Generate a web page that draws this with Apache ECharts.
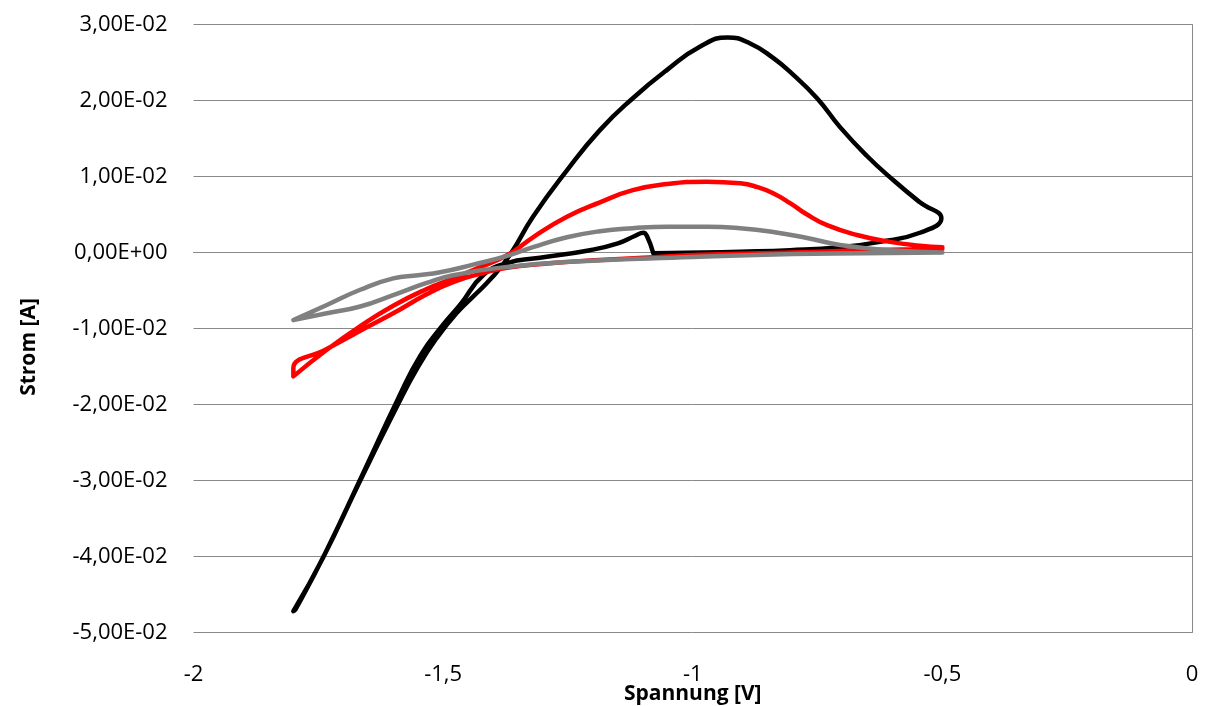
<!DOCTYPE html>
<html>
<head>
<meta charset="utf-8">
<script src="https://cdn.jsdelivr.net/npm/echarts@6/dist/echarts.min.js"></script>
<style>
html,body{margin:0;padding:0;background:#fff;}
#chart{width:1206px;height:706px;}
</style>
</head>
<body>
<div id="chart"></div>
<script>
// Tick labels
const xTicks = [-2, -1.5, -1, -0.5, 0];
const yTicks = [-0.05, -0.04, -0.03, -0.02, -0.01, 0, 0.01, 0.02, 0.03];

// Black curve (voltage V, current A) in drawing order
const blackV = [-1.079, -0.98, -0.905, -0.805, -0.705, -0.625, -0.545, -0.502,
  -0.545, -0.598, -0.651, -0.705, -0.751, -0.799, -0.839, -0.885, -0.93, -0.985, -1.052, -1.12, -1.186, -1.252, -1.32, -1.366, -1.405, -1.44, -1.472, -1.51, -1.55, -1.592, -1.666, -1.74, -1.8,
  -1.796, -1.735, -1.66, -1.59, -1.545, -1.5, -1.465, -1.42, -1.372, -1.306, -1.206, -1.15, -1.115, -1.099, -1.092, -1.079];
const blackI = [-0.0001, 0.0000, 0.0001, 0.0003, 0.0007, 0.0014, 0.0026, 0.0045,
  0.0066, 0.0095, 0.0127, 0.0165, 0.0203, 0.0234, 0.0256, 0.0275, 0.0283, 0.0271, 0.0240, 0.0203, 0.0161, 0.0108, 0.0047, -0.0003, -0.0035, -0.0058, -0.0079, -0.0110, -0.0150, -0.0202, -0.0300, -0.0401, -0.0472,
  -0.0470, -0.0394, -0.0290, -0.0192, -0.0135, -0.0095, -0.0068, -0.0030, -0.0014, -0.0007, 0.0003, 0.0012, 0.0022, 0.0026, 0.0022, -0.0001];

// Red curve
const redV = [-0.5, -0.545, -0.605, -0.671, -0.731, -0.771, -0.805, -0.839, -0.87, -0.905, -0.972, -1.052, -1.12, -1.186, -1.252, -1.32, -1.37, -1.44, -1.48, -1.533, -1.6, -1.666, -1.733, -1.8,
  -1.8, -1.733, -1.666, -1.6, -1.533, -1.48, -1.42, -1.372, -1.24, -1.1, -0.985, -0.8, -0.66, -0.5];
const redI = [0.0007, 0.0009, 0.0014, 0.0023, 0.0036, 0.0050, 0.0065, 0.0078, 0.0086, 0.0091, 0.0093, 0.0090, 0.0082, 0.0066, 0.0047, 0.0020, -0.0003, -0.0023, -0.0034, -0.0048, -0.0070, -0.0097, -0.0128, -0.0163,
  -0.0152, -0.0127, -0.0103, -0.0080, -0.0055, -0.0039, -0.0027, -0.0020, -0.0012, -0.0007, -0.0003, 0.0000, 0.0003, 0.0005];

// Gray curve
const grayV = [-0.5, -0.605, -0.705, -0.771, -0.839, -0.905, -0.97, -1.052, -1.12, -1.186, -1.252, -1.32, -1.37, -1.44, -1.506, -1.55, -1.6, -1.666, -1.733, -1.8,
  -1.733, -1.666, -1.6, -1.533, -1.48, -1.372, -1.24, -1.0, -0.8, -0.66, -0.5];
const grayI = [0.0000, 0.0003, 0.0010, 0.0019, 0.0027, 0.0032, 0.0034, 0.0034, 0.0032, 0.0028, 0.0020, 0.0007, -0.0004, -0.0016, -0.0026, -0.0030, -0.0034, -0.0049, -0.0069, -0.0089,
  -0.0080, -0.0071, -0.0056, -0.0040, -0.0030, -0.0019, -0.0012, -0.0006, -0.0002, -0.0001, 0.0000];

function pairs(vs, is) { return vs.map((v, k) => [v, is[k]]); }

function sci(v) {
  if (Math.abs(v) < 1e-12) return '0,00E+00';
  let e = Math.floor(Math.log10(Math.abs(v)) + 1e-9);
  let m = v / Math.pow(10, e);
  if (Math.abs(Math.round(m * 100) / 100) >= 10) { e += 1; m = v / Math.pow(10, e); }
  return m.toFixed(2).replace('.', ',') + 'E' + (e < 0 ? '-' : '+') + String(Math.abs(e)).padStart(2, '0');
}

const FONT = 'Open Sans';
const chart = echarts.init(document.getElementById('chart'), null, {renderer: 'canvas'});
const lineSeries = (name, vs, is, color) => ({
  name, type: 'line', data: pairs(vs, is), showSymbol: false, symbol: 'none',
  smooth: 0.5, lineStyle: {color, width: 4.5, cap: 'round', join: 'round'},
  xAxisIndex: 0, yAxisIndex: 0, animation: false
});

chart.setOption({
  animation: false,
  backgroundColor: '#ffffff',
  grid: {left: 193.5, right: 14, top: 24.5, bottom: 73.5, containLabel: false, outerBoundsMode: 'none'},
  xAxis: {
    type: 'value', min: -2, max: 0, interval: 0.5,
    axisLine: {show: true, onZero: true, lineStyle: {color: '#898989', width: 1}},
    axisTick: {show: false},
    splitLine: {show: false},
    axisLabel: {
      margin: 31, color: '#000', fontFamily: FONT, fontSize: 22,
      formatter: v => String(+v.toFixed(2)).replace('.', ',')
    },
    name: 'Spannung [V]', nameLocation: 'middle', nameGap: 51, nameMoveOverlap: false,
    nameTextStyle: {color: '#000', fontFamily: FONT, fontSize: 21, fontWeight: 'bold'}
  },
  yAxis: [{
    type: 'value', min: -0.05, max: 0.03, interval: 0.01,
    axisLine: {show: false},
    axisTick: {show: false},
    splitLine: {show: true, lineStyle: {color: '#898989', width: 1}},
    axisLabel: {margin: 26, color: '#000', fontFamily: FONT, fontSize: 22, formatter: sci}
  }, {
    type: 'value', min: -0.05, max: 0.03, interval: 0.01, position: 'right',
    axisLine: {show: true, lineStyle: {color: '#898989', width: 1}},
    axisTick: {show: false}, axisLabel: {show: false}, splitLine: {show: false}
  }],
  graphic: [{
    type: 'text', x: 29, y: 347, rotation: Math.PI / 2,
    style: {text: 'Strom [A]', fill: '#000', font: 'bold 21px "Open Sans"', align: 'center', verticalAlign: 'middle'}
  }],
  series: [
    lineSeries('Schwarz', blackV, blackI, '#000000'),
    lineSeries('Rot', redV, redI, '#ff0000'),
    lineSeries('Grau', grayV, grayI, '#808080')
  ]
});
</script>
</body>
</html>
